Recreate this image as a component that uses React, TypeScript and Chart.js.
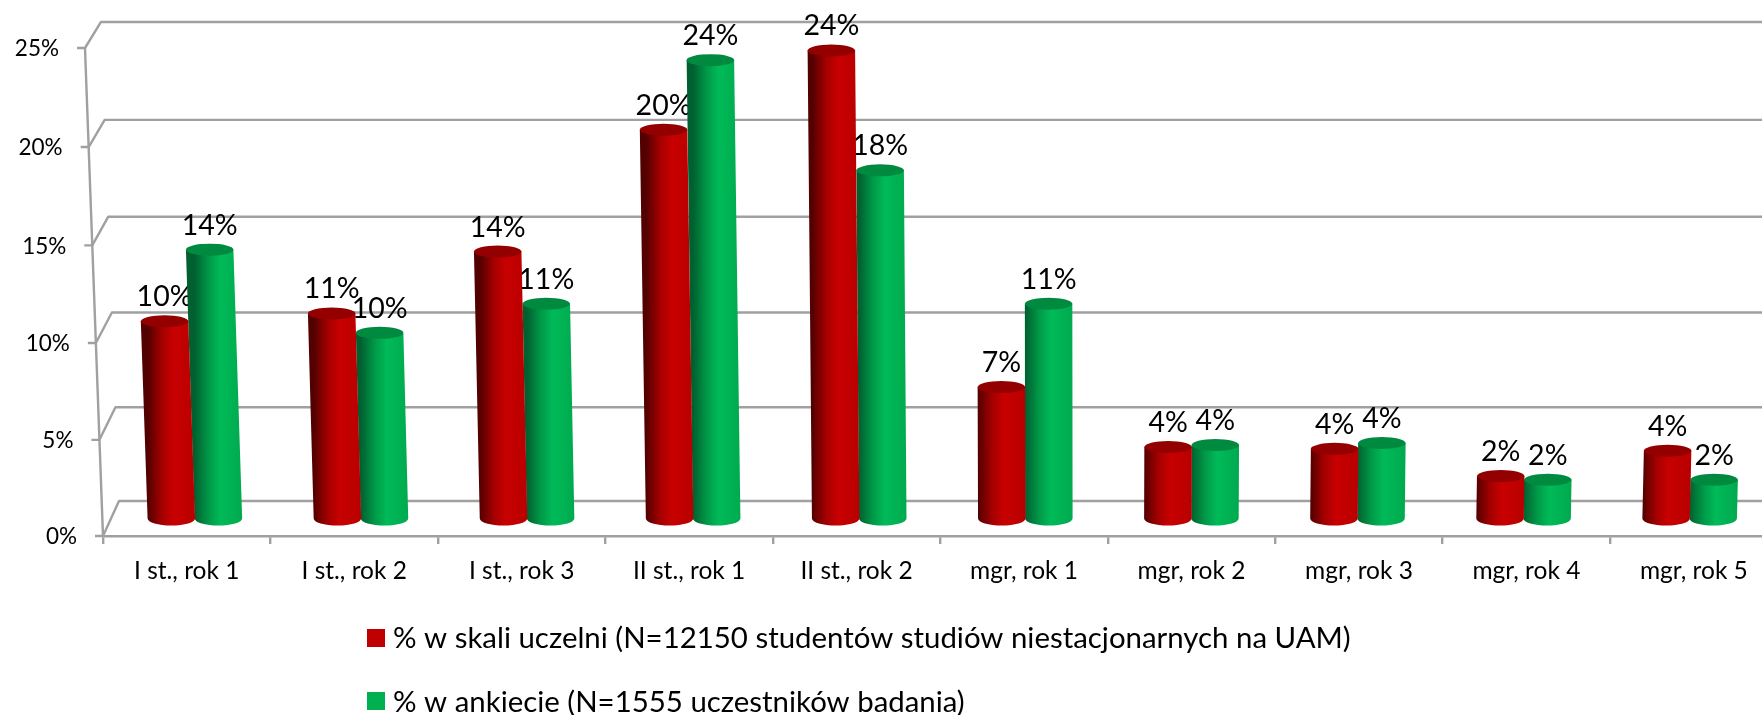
import React, { useEffect, useRef } from "react";
import { Chart, registerables, BarElement } from "chart.js";

Chart.register(...registerables);

const categories = ["I st., rok 1", "I st., rok 2", "I st., rok 3", "II st., rok 1", "II st., rok 2", "mgr, rok 1", "mgr, rok 2", "mgr, rok 3", "mgr, rok 4", "mgr, rok 5"];
const uczelniValues = [10.2, 10.6, 13.8, 20.1, 24.2, 6.8, 3.7, 3.6, 2.2, 3.5];
const ankietaValues = [13.9, 9.6, 11.1, 23.7, 18.0, 11.1, 3.8, 3.9, 2.0, 2.0];
const uczelniLabel = "% w skali uczelni (N=12150 studentów studiów niestacjonarnych na UAM)";
const ankietaLabel = "% w ankiecie (N=1555 uczestników badania)";

const RED = "#c00000";
const GREEN = "#00b050";
const GRID = "#a0a0a0";
const FONT = "Lato, 'Open Sans', sans-serif";

// perspective of the 3D look
const VP_X = 1081;
const FRONT_Y = 536;
const SLANT = 1 / 26500;
const RY = 6;

function frontX(x: number, y: number) {
  return x + (x - VP_X) * (FRONT_Y - y) * SLANT;
}
function midY(y: number) {
  return 518.5 - (FRONT_Y - y) * 0.9908;
}
function geom(x: number, y: number) {
  const bx = x + (1180 - x) * 0.0082;
  const topY = midY(y);
  return { botX: bx, botY: 518.5, topY, topX: bx + (bx - VP_X) * (518.5 - topY) * SLANT };
}

const SHADES: Record<string, string[]> = {
  [RED]: ["#520000", "#a50000", "#c80000", "#c40000", "#b80000", "#940000"],
  [GREEN]: ["#006030", "#009a48", "#00ba58", "#00b855", "#00aa4e", "#008a40"],
};

BarElement.prototype.draw = function (this: any, ctx: CanvasRenderingContext2D) {
  const color = this.options.backgroundColor as string;
  const s = SHADES[color] || SHADES[RED];
  const { botX, botY, topX, topY } = geom(this.x, this.y);
  const rx = this.width / 2;
  const g = ctx.createLinearGradient(botX - rx, 0, botX + rx, 0);
  g.addColorStop(0, s[0]);
  g.addColorStop(0.3, s[1]);
  g.addColorStop(0.55, s[2]);
  g.addColorStop(1, s[4]);
  ctx.save();
  ctx.beginPath();
  ctx.moveTo(topX - rx, topY);
  ctx.lineTo(botX - rx, botY);
  ctx.ellipse(botX, botY, rx, RY + 1, 0, Math.PI, 0, true);
  ctx.lineTo(topX + rx, topY);
  ctx.closePath();
  ctx.fillStyle = g;
  ctx.fill();
  ctx.beginPath();
  ctx.ellipse(topX, topY, rx, RY, 0, 0, Math.PI * 2);
  ctx.fillStyle = s[5];
  ctx.fill();
  ctx.restore();
};

const decor = {
  id: "decor",
  beforeDatasetsDraw(chart: any) {
    const { ctx, scales, chartArea } = chart;
    const y = scales.y;
    ctx.save();
    ctx.strokeStyle = GRID;
    ctx.lineWidth = 2.4;
    ctx.lineJoin = "round";
    // slanted axis with ticks, 3D side wall and back wall grid lines
    const top = y.getPixelForValue(y.max);
    const bottom = y.getPixelForValue(0);
    ctx.beginPath();
    ctx.moveTo(frontX(chartArea.left, top), top);
    ctx.lineTo(frontX(chartArea.left, bottom), bottom);
    ctx.stroke();
    ctx.font = `22.5px ${FONT}`;
    ctx.textAlign = "right";
    ctx.textBaseline = "middle";
    y.ticks.forEach((t: any) => {
      const raw = y.getPixelForValue(t.value);
      const f = (FRONT_Y - raw) / (FRONT_Y - top);
      const py = raw + 9 * f * (1 - f);
      const fx = frontX(chartArea.left, py);
      const backY = 501 - (FRONT_Y - raw) * 0.9816 + 13 * f * (1 - f);
      const backX = fx + 16;
      ctx.beginPath();
      ctx.moveTo(fx - 8, py);
      ctx.lineTo(fx, py);
      ctx.lineTo(backX, backY);
      ctx.lineTo(chart.width, backY);
      ctx.stroke();
      ctx.fillStyle = "#000";
      ctx.fillText(t.label, fx - 26, py + 1);
    });
    // data labels sit behind the cylinders
    ctx.font = `28.5px ${FONT}`;
    ctx.textAlign = "center";
    ctx.textBaseline = "alphabetic";
    ctx.fillStyle = "#000";
    chart.data.datasets.forEach((ds: any, di: number) => {
      chart.getDatasetMeta(di).data.forEach((el: any, i: number) => {
        const { topX, topY } = geom(el.x, el.y);
        ctx.fillText(`${Math.round(ds.data[i])}%`, topX, topY - RY - 9);
      });
    });
    ctx.restore();
  },
  afterDraw(chart: any) {
    const { ctx } = chart;
    ctx.save();
    ctx.font = `29.4px ${FONT}`;
    ctx.textAlign = "left";
    ctx.textBaseline = "middle";
    [639, 703].forEach((cy, di) => {
      const ds = chart.data.datasets[di];
      ctx.fillStyle = ds.backgroundColor;
      ctx.fillRect(367, (di ? 692 : 629), 18, 18);
      ctx.fillStyle = "#000";
      ctx.fillText(ds.label, 393, cy);
    });
    ctx.restore();
  },
};

export default function App() {
  const ref = useRef<HTMLCanvasElement>(null);
  useEffect(() => {
    const chart = new Chart(ref.current as HTMLCanvasElement, {
      type: "bar",
      data: {
        labels: categories,
        datasets: [
          { label: uczelniLabel, data: uczelniValues, backgroundColor: RED, categoryPercentage: 0.567, barPercentage: 1, clip: false },
          { label: ankietaLabel, data: ankietaValues, backgroundColor: GREEN, categoryPercentage: 0.567, barPercentage: 1, clip: false },
        ],
      },
      options: {
        animation: false,
        responsive: false,
        layout: { padding: { left: 103, right: 22.4, top: 48, bottom: 109 } },
        plugins: { legend: { display: false }, tooltip: { enabled: false } },
        scales: {
          x: {
            afterFit: (s: any) => { s.height = 70; },
            grid: { drawOnChartArea: false, color: GRID, lineWidth: 2.4, tickLength: 8 },
            border: { color: GRID, width: 2.4 },
            ticks: { color: "#000", font: { family: FONT, size: 24.5 }, padding: 12, maxRotation: 0, autoSkip: false },
          },
          y: {
            min: 0,
            max: 25,
            afterFit: (s: any) => { s.width = 0; },
            ticks: { stepSize: 5, display: false, callback: (v: any) => `${v}%` },
            grid: { display: false },
            border: { display: false },
          },
        },
      },
      plugins: [decor],
    } as any);
    return () => chart.destroy();
  }, []);
  return (
    <div style={{ position: "fixed", left: 0, top: 0, width: 1762, height: 715, overflow: "hidden", background: "#fff" }}>
      <canvas ref={ref} width={1800} height={715} style={{ display: "block" }} />
    </div>
  );
}
